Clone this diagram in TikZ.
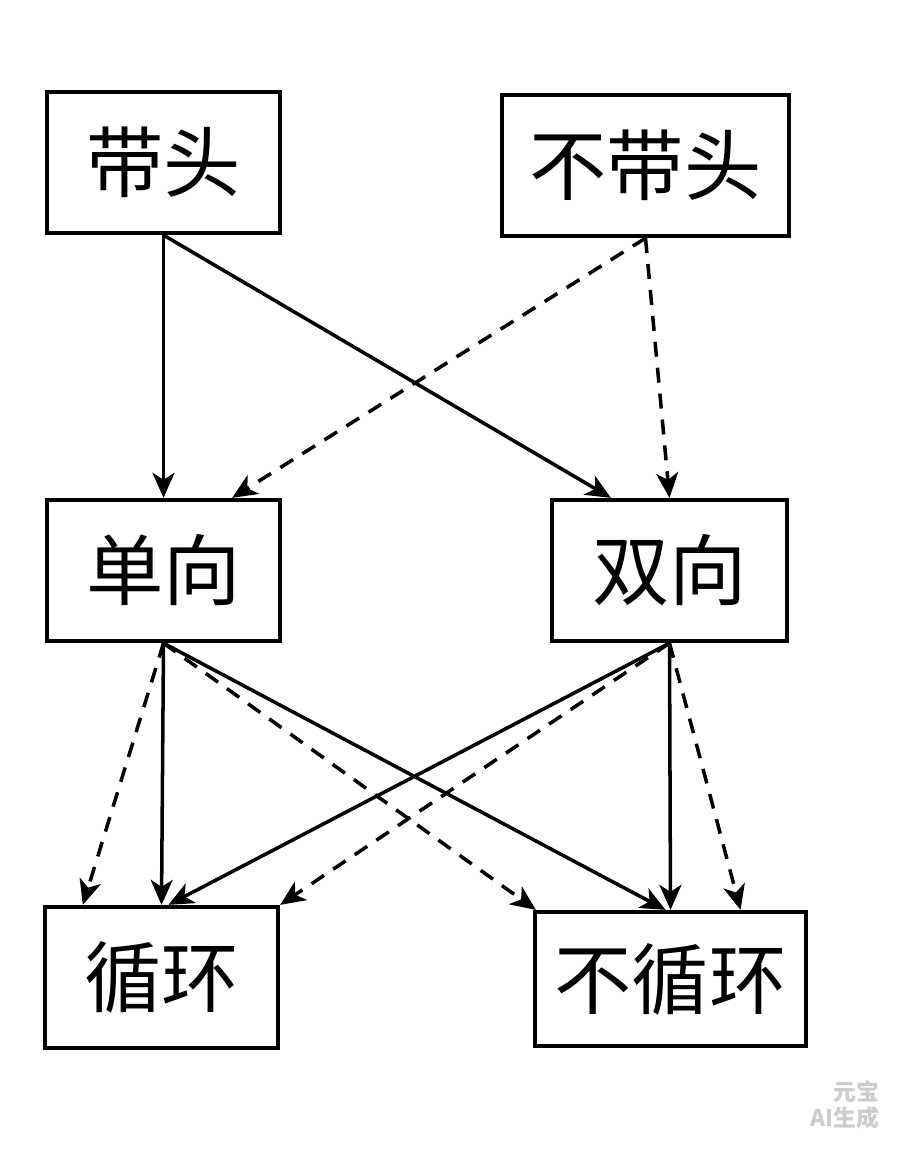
\documentclass[tikz,border=0pt]{standalone}
\usepackage{fontspec}
\newfontfamily\cjk{Noto Sans CJK SC}
\usetikzlibrary{arrows.meta,positioning}

\tikzset{
  listbox/.style={draw,line width=1.2pt,inner sep=0pt,font=\cjk\fontsize{22}{26}\selectfont},
  link/.style={line width=1pt,-{Stealth[length=2.5mm,width=2.2mm,inset=0.7mm]}},
  maybe/.style={link,dash pattern=on 1.5mm off 1.1mm}
}

\begin{document}
\begin{tikzpicture}[x=0.01cm,y=-0.01cm]
  \useasboundingbox (0,0) rectangle (896,1152);
  % top row
  \node[listbox,minimum width=2.33cm,minimum height=1.41cm] (head) at (163.5,162.5) {带头};
  \node[listbox,minimum width=2.87cm,minimum height=1.41cm] (nohead) at (645.5,165.5) {不带头};
  % middle row
  \node[listbox,minimum width=2.33cm,minimum height=1.41cm] (single) at (163.5,570.5) {单向};
  \node[listbox,minimum width=2.35cm,minimum height=1.41cm] (double) at (669.5,570.5) {双向};
  % bottom row
  \node[listbox,minimum width=2.33cm,minimum height=1.41cm] (circ) at (161.5,977.5) {循环};
  \node[listbox,minimum width=2.71cm,minimum height=1.34cm] (nocirc) at (670.5,979) {不循环};

  % head / no head
  \draw[link] (head.south) -- (single.north);
  \draw[link] (head.south) -- ([xshift=0.61cm]double.north west);
  \draw[maybe] (nohead.south) -- ([xshift=-0.5cm]single.north east);
  \draw[maybe] (nohead.south) -- (double.north);

  % single
  \draw[maybe] (single.south) -- ([xshift=0.4cm]circ.north west);
  \draw[link] (single.south) -- (circ.north);
  \draw[maybe] (single.south) -- ([xshift=0.03cm]nocirc.north west);
  \draw[link] (single.south) -- ([xshift=-0.05cm]nocirc.north);

  % double
  \draw[link] (double.south) -- ([xshift=0.07cm]circ.north);
  \draw[maybe] (double.south) -- (circ.north east);
  \draw[link] (double.south) -- (nocirc.north);
  \draw[maybe] (double.south) -- ([xshift=0.7cm]nocirc.north);

  % watermark
  \node[gray!40,font=\cjk\bfseries\fontsize{6.5}{7.5}\selectfont,align=right,inner sep=0pt] (mark) at (845,1105) {元宝\\AI生成};
\end{tikzpicture}
\end{document}
